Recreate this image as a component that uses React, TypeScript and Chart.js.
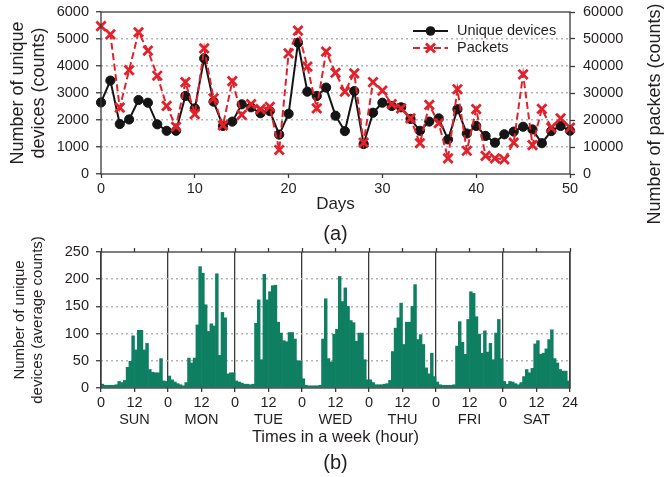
import React, { useEffect, useRef } from 'react';
import { Chart, registerables } from 'chart.js';

Chart.register(...registerables);

const FONT = "'Liberation Sans', Arial, Helvetica, sans-serif";
const TEXT = '#231f20';
const AXIS = '#3a3a3a';
const GRID = '#b4b4b4';
const RED = '#e3212b';
const BLACK = '#151515';
const GREEN = '#0f7f62';

// ---- (a) daily data ----
const DAYS = [0, 1, 2, 3, 4, 5, 6, 7, 8, 9, 10, 11, 12, 13, 14, 15, 16, 17, 18, 19, 20, 21, 22, 23, 24, 25, 26, 27, 28, 29, 30, 31, 32, 33, 34, 35, 36, 37, 38, 39, 40, 41, 42, 43, 44, 45, 46, 47, 48, 49, 50];
const UNIQUE_DEVICES = [2650, 3460, 1850, 2020, 2740, 2640, 1840, 1600, 1600, 2890, 2430, 4280, 2680, 1780, 1940, 2580, 2470, 2250, 2330, 1460, 2230, 4860, 3050, 2890, 3200, 2160, 1590, 3070, 1110, 2270, 2640, 2520, 2470, 2040, 1600, 1940, 2060, 1280, 2400, 1500, 1780, 1410, 1160, 1470, 1570, 1750, 1650, 1140, 1590, 1780, 1600];
const PACKETS = [54800, 51700, 24600, 38500, 52500, 45700, 36400, 25200, 17500, 34000, 22200, 46500, 28000, 18000, 34400, 21900, 25900, 24000, 24900, 8900, 44700, 53100, 39800, 24300, 45300, 37500, 30500, 37300, 11600, 34000, 30900, 25900, 24300, 20600, 11400, 25600, 18800, 5800, 31400, 8600, 24000, 6700, 5800, 5400, 11600, 36900, 10700, 24100, 17200, 20600, 17200];
const SERIES_A = ['Unique devices', 'Packets'];

// ---- (b) hourly data, a week ----
const WEEKDAYS = ['SUN', 'MON', 'TUE', 'WED', 'THU', 'FRI', 'SAT'];
const SUN = [7, 5, 5, 5, 5, 6, 12, 10, 14, 38, 49, 96, 70, 106, 106, 70, 82, 34, 29, 28, 28, 54, 13, 12];
const MON = [22, 15, 11, 8, 6, 4, 10, 55, 46, 55, 116, 223, 211, 153, 104, 118, 114, 210, 60, 139, 129, 26, 28, 28];
const TUE = [13, 11, 9, 7, 7, 6, 7, 119, 162, 52, 209, 162, 177, 188, 189, 121, 101, 87, 85, 102, 102, 90, 50, 50];
const WED = [17, 5, 4, 4, 4, 4, 5, 90, 164, 54, 48, 99, 108, 205, 159, 184, 150, 124, 120, 86, 101, 101, 52, 15];
const THU = [15, 10, 6, 6, 6, 7, 8, 14, 67, 110, 129, 156, 80, 121, 121, 150, 190, 89, 98, 80, 37, 26, 64, 21];
const FRI = [11, 6, 5, 5, 5, 5, 6, 77, 122, 84, 62, 126, 177, 174, 131, 99, 64, 105, 66, 82, 52, 101, 126, 54];
const SAT = [12, 7, 12, 11, 8, 6, 10, 21, 34, 28, 36, 81, 87, 62, 64, 72, 89, 107, 54, 46, 34, 31, 31, 13];
const WEEK = [SUN, MON, TUE, WED, THU, FRI, SAT];

const TITLE_A_LEFT = ['Number of unique', 'devices (counts)'];
const TITLE_A_RIGHT = 'Number of packets (counts)';
const TITLE_A_X = 'Days';
const TITLE_B_LEFT = ['Number of unique', 'devices (average counts)'];
const TITLE_B_X = 'Times in a week (hour)';

const tickFont = { size: 14.5, family: FONT };

const framePlugin = {
  id: 'frame',
  afterDraw(chart: any) {
    const { ctx, chartArea: a } = chart;
    ctx.save();
    ctx.setLineDash([]);
    ctx.strokeStyle = AXIS;
    ctx.lineWidth = 1.3;
    ctx.strokeRect(a.left, a.top, a.right - a.left, a.bottom - a.top);
    ctx.restore();
  },
};

const topOverlay = {
  id: 'topOverlay',
  afterDraw(chart: any) {
    const { ctx, chartArea: a } = chart;
    // right axis title, reading bottom-to-top
    ctx.save();
    ctx.translate(655, 114);
    ctx.rotate(-Math.PI / 2);
    ctx.font = `18px ${FONT}`;
    ctx.fillStyle = TEXT;
    ctx.textAlign = 'center';
    ctx.textBaseline = 'middle';
    ctx.fillText(TITLE_A_RIGHT, 0, 0);
    ctx.restore();

    // legend
    const x0 = a.left + 312;
    const x1 = a.left + 347;
    const xm = (x0 + x1) / 2;
    const rows = [a.top + 19, a.top + 36];
    ctx.save();
    ctx.font = `14.5px ${FONT}`;
    ctx.textBaseline = 'middle';
    ctx.textAlign = 'left';
    let y = rows[0];
    ctx.strokeStyle = BLACK;
    ctx.lineWidth = 2;
    ctx.setLineDash([]);
    ctx.beginPath(); ctx.moveTo(x0, y); ctx.lineTo(x1, y); ctx.stroke();
    ctx.fillStyle = BLACK;
    ctx.beginPath(); ctx.arc(xm, y, 4.8, 0, Math.PI * 2); ctx.fill();
    ctx.fillStyle = TEXT;
    ctx.fillText(SERIES_A[0], a.left + 356, y);
    y = rows[1];
    ctx.strokeStyle = RED;
    ctx.lineWidth = 2;
    ctx.setLineDash([7, 3.5]);
    ctx.beginPath(); ctx.moveTo(x0, y); ctx.lineTo(x1, y); ctx.stroke();
    ctx.setLineDash([]);
    ctx.lineWidth = 2.8;
    const r = 4.6;
    ctx.beginPath();
    ctx.moveTo(xm - r, y - r); ctx.lineTo(xm + r, y + r);
    ctx.moveTo(xm - r, y + r); ctx.lineTo(xm + r, y - r);
    ctx.stroke();
    ctx.fillStyle = TEXT;
    ctx.fillText(SERIES_A[1], a.left + 356, y);
    ctx.restore();
  },
};

function gridColor(max: number) {
  return (c: any) => (c.tick && (c.tick.value === 0 || c.tick.value === max) ? 'rgba(0,0,0,0)' : GRID);
}

function fitWidth(w: number) {
  return (s: any) => {
    s.width = w;
    s.paddingTop = 0;
    s.paddingBottom = 0;
  };
}

function fitHeight(h: number) {
  return (s: any) => {
    s.height = h;
    s.paddingLeft = 0;
    s.paddingRight = 0;
  };
}

function makeTopConfig(): any {
  return {
    type: 'line',
    data: {
      datasets: [
        {
          label: SERIES_A[1],
          data: DAYS.map((d, i) => ({ x: d, y: PACKETS[i] })),
          yAxisID: 'y1',
          borderColor: RED,
          backgroundColor: RED,
          borderWidth: 2,
          borderDash: [7, 3.5],
          pointStyle: 'crossRot',
          pointRadius: 6.5,
          pointBorderWidth: 2.8,
          pointBorderColor: RED,
          pointBackgroundColor: RED,
          tension: 0,
          clip: false,
          order: 0,
        },
        {
          label: SERIES_A[0],
          data: DAYS.map((d, i) => ({ x: d, y: UNIQUE_DEVICES[i] })),
          yAxisID: 'y',
          borderColor: BLACK,
          backgroundColor: BLACK,
          borderWidth: 2,
          pointStyle: 'circle',
          pointRadius: 4.6,
          pointBorderWidth: 1,
          pointBorderColor: BLACK,
          pointBackgroundColor: BLACK,
          tension: 0,
          clip: false,
          order: 1,
        },
      ],
    },
    options: {
      responsive: false,
      animation: false,
      events: [],
      layout: { padding: { top: 12, left: 0, right: 0, bottom: 0 }, autoPadding: false },
      plugins: {
        legend: { display: false },
        tooltip: { enabled: false },
        title: {
          display: true,
          text: '(a)',
          position: 'bottom',
          fullSize: false,
          color: TEXT,
          font: { size: 20, family: FONT, weight: 'normal' },
          padding: 0,
        },
      },
      scales: {
        x: {
          type: 'linear',
          min: 0,
          max: 50,
          offset: false,
          ticks: { stepSize: 10, font: tickFont, color: TEXT, padding: 2, maxRotation: 0, callback: (v: number) => String(v) },
          grid: { drawOnChartArea: false, tickLength: 4, tickColor: AXIS, tickWidth: 1.3 },
          border: { display: false },
          title: { display: true, text: TITLE_A_X, color: TEXT, font: { size: 17, family: FONT }, padding: { top: 0, bottom: 7 } },
          afterFit: fitHeight(48),
        },
        y: {
          position: 'left',
          min: 0,
          max: 6000,
          ticks: { stepSize: 1000, font: tickFont, color: TEXT, padding: 7, callback: (v: number) => String(v) },
          grid: { color: gridColor(6000), lineWidth: 1.5, tickLength: 5, tickColor: AXIS, tickWidth: 1.3 },
          border: { display: false, dash: [2, 3] },
          title: { display: true, text: TITLE_A_LEFT, color: TEXT, font: { size: 18, family: FONT }, padding: { top: 7, bottom: 0 } },
          afterFit: fitWidth(101),
        },
        y1: {
          position: 'right',
          min: 0,
          max: 60000,
          ticks: { stepSize: 10000, font: tickFont, color: TEXT, padding: 8, callback: (v: number) => String(v) },
          grid: { drawOnChartArea: false, tickLength: 5, tickColor: AXIS, tickWidth: 1.3 },
          border: { display: false },
          afterFit: fitWidth(95),
        },
      },
    },
    plugins: [framePlugin, topOverlay],
  };
}

function makeBottomConfig(): any {
  const values = WEEK.flat();
  return {
    type: 'bar',
    data: {
      datasets: [
        {
          label: 'Number of unique devices',
          data: values.map((v, i) => ({ x: i + 0.5, y: v })),
          backgroundColor: GREEN,
          borderWidth: 0,
          barPercentage: 1,
          categoryPercentage: 1,
          xAxisID: 'x',
          yAxisID: 'y',
        },
      ],
    },
    options: {
      responsive: false,
      animation: false,
      events: [],
      layout: { padding: { top: 18, left: 0, right: 95, bottom: 2 }, autoPadding: false },
      plugins: {
        legend: { display: false },
        tooltip: { enabled: false },
        title: {
          display: true,
          text: '(b)',
          position: 'bottom',
          fullSize: false,
          color: TEXT,
          font: { size: 20, family: FONT, weight: 'normal' },
          padding: 0,
        },
      },
      scales: {
        x: {
          type: 'linear',
          position: 'bottom',
          min: 0,
          max: 168,
          offset: false,
          z: 1,
          ticks: {
            stepSize: 12,
            autoSkip: false,
            maxRotation: 0,
            minRotation: 0,
            font: tickFont,
            color: TEXT,
            padding: 2,
            callback: (v: number) => (v === 168 ? '24' : v % 24 === 0 ? '0' : ['12', WEEKDAYS[Math.floor(v / 24)]]),
          },
          grid: {
            offset: false,
            color: (c: any) => (c.tick && c.tick.value % 24 === 0 ? AXIS : 'rgba(0,0,0,0)'),
            lineWidth: 1.3,
            tickLength: 4,
            tickColor: AXIS,
            tickWidth: 1.3,
          },
          border: { display: false },
          title: { display: true, text: TITLE_B_X, color: TEXT, font: { size: 16.5, family: FONT }, padding: { top: 0, bottom: 4 } },
          afterFit: fitHeight(63),
        },
        xTop: {
          type: 'linear',
          position: 'top',
          min: 0,
          max: 168,
          offset: false,
          ticks: { stepSize: 12, display: false, autoSkip: false },
          grid: { offset: false, drawOnChartArea: false, tickLength: 4, tickColor: AXIS, tickWidth: 1.3 },
          border: { display: false },
          afterFit: fitHeight(4),
        },
        y: {
          position: 'left',
          min: 0,
          max: 250,
          ticks: { stepSize: 50, font: tickFont, color: TEXT, padding: 7, callback: (v: number) => String(v) },
          grid: { color: gridColor(250), lineWidth: 1.5, tickLength: 5, tickColor: AXIS, tickWidth: 1.3 },
          border: { display: false, dash: [2, 3] },
          title: { display: true, text: TITLE_B_LEFT, color: TEXT, font: { size: 15, family: FONT }, padding: { top: 11, bottom: 0 } },
          afterFit: fitWidth(101),
        },
      },
    },
    plugins: [framePlugin],
  };
}

export default function App() {
  const topRef = useRef<HTMLCanvasElement>(null);
  const botRef = useRef<HTMLCanvasElement>(null);

  useEffect(() => {
    Chart.defaults.font.family = FONT;
    Chart.defaults.color = TEXT;
    const c1 = new Chart(topRef.current as HTMLCanvasElement, makeTopConfig());
    const c2 = new Chart(botRef.current as HTMLCanvasElement, makeBottomConfig());
    return () => {
      c1.destroy();
      c2.destroy();
    };
  }, []);

  return (
    <div style={{ position: 'fixed', left: 0, top: 0, width: 665, height: 477, background: '#ffffff' }}>
      <canvas ref={topRef} width={665} height={246} style={{ position: 'absolute', left: 0, top: 0 }} />
      <canvas ref={botRef} width={665} height={247} style={{ position: 'absolute', left: 0, top: 230 }} />
    </div>
  );
}
